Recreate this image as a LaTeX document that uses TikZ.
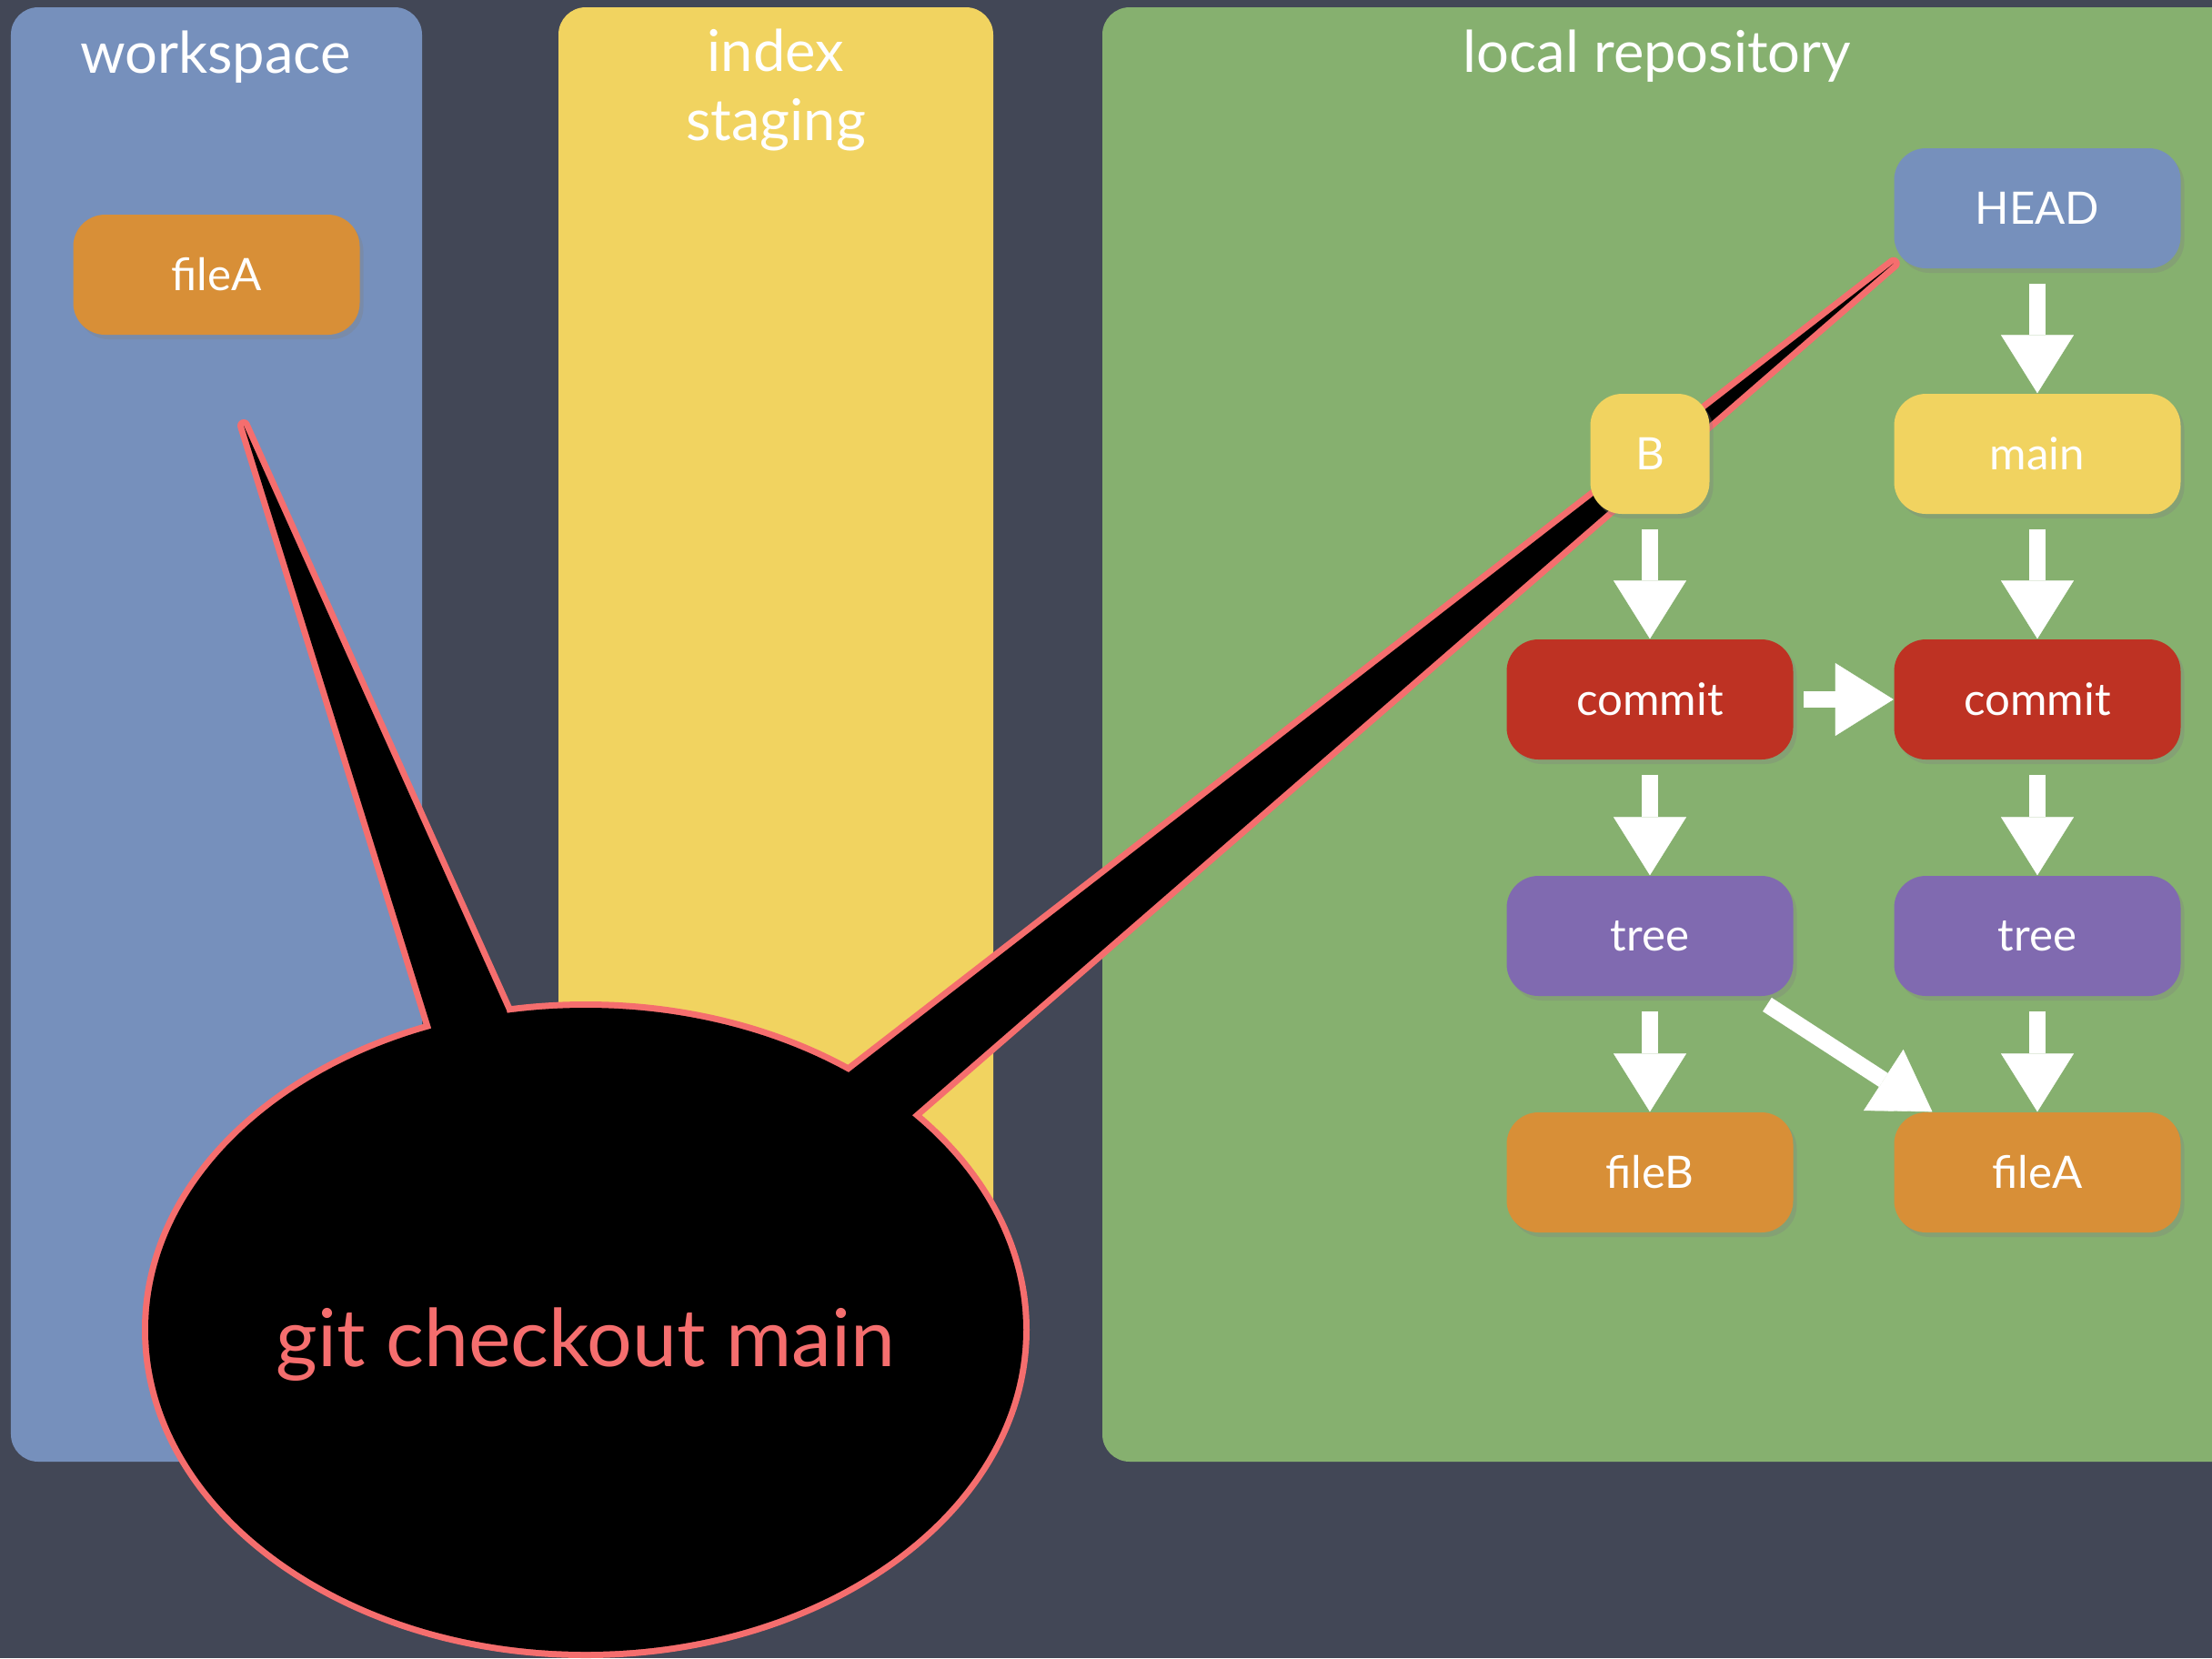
\documentclass[tikz,border=0pt]{standalone}
\usepackage{fontspec}
\setmainfont{Lato}
\usepackage{tikz}
\usetikzlibrary{arrows.meta, shadows}

\definecolor{board}{RGB}{66,71,86}
\definecolor{wsblue}{RGB}{118,144,188}
\definecolor{idxyellow}{RGB}{241,211,96}
\definecolor{repogreen}{RGB}{134,176,111}
\definecolor{fileorange}{RGB}{216,143,55}
\definecolor{commitred}{RGB}{190,50,35}
\definecolor{treepurple}{RGB}{128,106,176}
\definecolor{chalkred}{RGB}{245,110,110}

\pgfdeclarelayer{bg}
\pgfdeclarelayer{bubble}
\pgfsetlayers{bg,bubble,main}

\begin{document}
\begin{tikzpicture}[>={Triangle[width=8mm,length=6.4mm,line width=0.1pt]}, node distance=2.7cm]
\tikzstyle{box}=[rounded corners=0.35cm, minimum width=3.15cm, minimum height=1.32cm, text=white, font=\fontsize{14}{17}\selectfont, drop shadow={opacity=0.3, shadow xshift=0.04cm, shadow yshift=-0.05cm}]
\tikzstyle{title}=[text=white, font=\fontsize{18}{21.5}\selectfont, align=center]
\tikzstyle{flow}=[->, color=white, line width=1.8mm, shorten <=1.6mm]
\tikzstyle{panel}=[rounded corners=0.3cm]

\useasboundingbox (0,0) rectangle (24.32,-18.23);

% workspace
\node[title] (ws) at (2.37,-0.63) {workspace};
\node[box, fill=fileorange] (wa) at (2.38,-3.02) {fileA};
\coordinate (wtip) at (2.68,-4.68);

% index
\node[title] (idx) at (8.53,-0.99) {index\\staging};

% local repository
\node[title] (repo) at (18.22,-0.62) {local repository};
\node[box, fill=wsblue] (head) at (22.40,-2.29) {HEAD};
\node[box, fill=idxyellow] (main) [below of=head] {main};
\node[box, fill=commitred] (c2) [below of=main] {commit};
\node[box, fill=treepurple] (t2) [node distance=2.6cm, below of=c2] {tree};
\node[box, fill=fileorange] (fa) [node distance=2.6cm, below of=t2] {fileA};
\node[box, fill=commitred] (c1) [node distance=4.26cm, left of=c2] {commit};
\node[box, fill=idxyellow, minimum width=1.31cm] (b) [above of=c1] {B};
\node[box, fill=treepurple] (t1) [node distance=2.6cm, below of=c1] {tree};
\node[box, fill=fileorange] (fb) [node distance=2.6cm, below of=t1] {fileB};

\path[flow] (head) edge (main);
\path[flow] (main) edge (c2);
\path[flow] (b) edge (c1);
\path[flow, shorten <=1.1mm] (c1) edge (c2);
\path[flow] (c1) edge (t1);
\path[flow] (c2) edge (t2);
\path[flow] (t1) edge (fb);
\path[flow] (t1.-30) edge (fa.150);
\path[flow] (t2) edge (fa);

% speech bubble
\begin{pgfonlayer}{bubble}
\coordinate (bc) at (6.44,-14.62);
\fill[black, preaction={draw=chalkred, line width=0.14cm, line join=round}]
  (bc) ellipse [x radius=4.81cm, y radius=3.54cm]
  (5.57,-11.11) -- (wtip) -- (4.75,-11.33) -- (bc) -- cycle
  (10.03,-12.26) -- (head.201) -- (9.33,-11.79) -- (bc) -- cycle;
\end{pgfonlayer}
\node[text=chalkred, font=\fontsize{25}{30}\selectfont] (cmd) at (6.44,-14.78) {git checkout main};

% panels
\begin{pgfonlayer}{bg}
\fill[board] (0,0) rectangle (24.32,-18.23);
\fill[panel, wsblue] (0.12,-0.08) rectangle (4.64,-16.07);
\fill[panel, idxyellow] (6.14,-0.08) rectangle (10.92,-16.07);
\fill[panel, repogreen] (12.12,-0.08) rectangle (24.70,-16.07);
\end{pgfonlayer}
\end{tikzpicture}
\end{document}
